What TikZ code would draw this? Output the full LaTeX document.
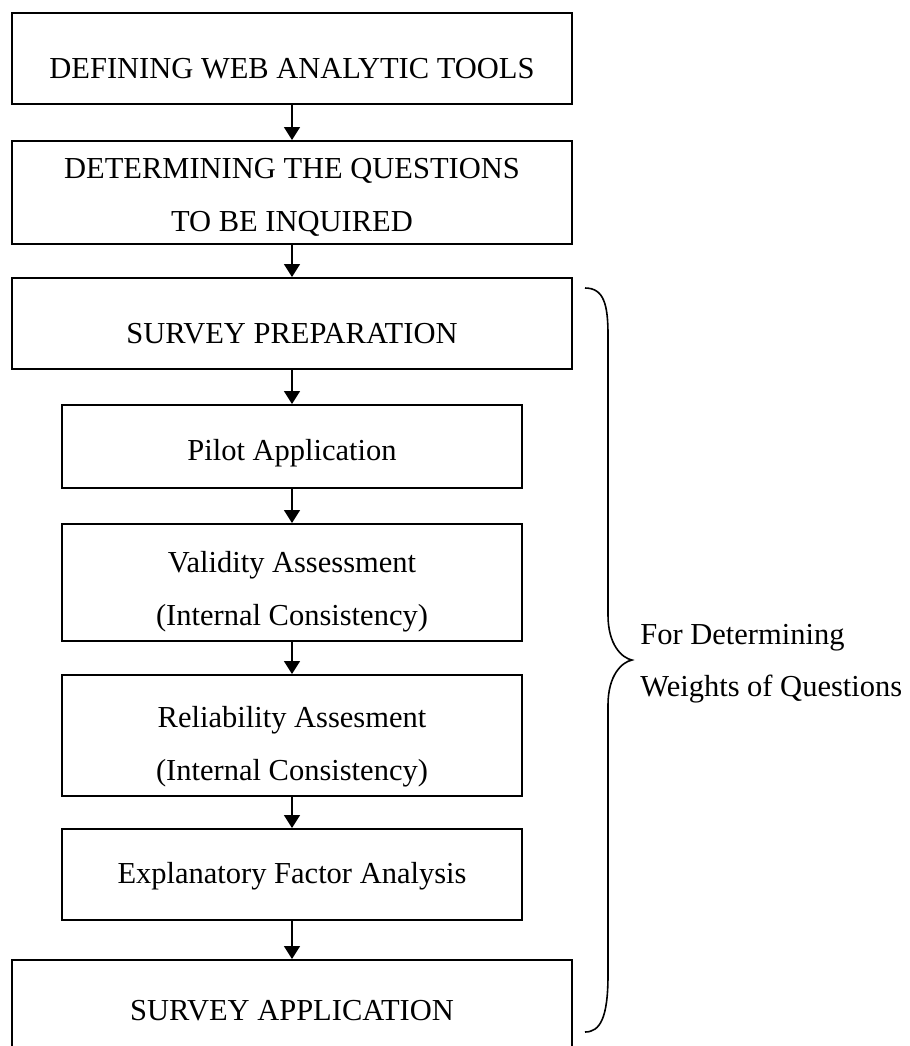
\documentclass[tikz,border=0pt]{standalone}
\usepackage{fontspec}
\setmainfont{Liberation Serif}
\usepackage{tikz}
\usetikzlibrary{arrows.meta,calc,positioning}

\tikzset{
    stepbig/.style={draw, rectangle, line width=0.8pt, minimum width=280pt,
        inner sep=0pt, anchor=north, align=center,
        font=\fontsize{15.25}{26.5}\selectfont},
    stepsmall/.style={stepbig, minimum width=230pt},
    flowarrow/.style={-{Triangle[length=6.5pt,width=8pt]}, line width=0.8pt},
}

\begin{document}
\begin{tikzpicture}[x=0.5pt,y=-0.5pt]
    \useasboundingbox (0,0) rectangle (910,1046);
    % main steps
    \node[stepbig, minimum height=45.5pt, text height=20.5pt, text depth=0pt]
        (tools) at (292,12) {DEFINING WEB ANALYTIC TOOLS};
    \node[stepbig, minimum height=51.5pt, text height=39.5pt, text depth=0pt]
        (questions) at (292,140) {DETERMINING THE QUESTIONS\\TO BE INQUIRED};
    \node[stepbig, minimum height=45.5pt, text height=20.5pt, text depth=0pt]
        (prep) at (292,277) {SURVEY PREPARATION};
    % sub steps
    \node[stepsmall, minimum height=41.5pt, text height=14.5pt, text depth=0pt]
        (pilot) at (292,404) {Pilot Application};
    \node[stepsmall, minimum height=58.5pt, text height=43.5pt, text depth=0pt]
        (validity) at (292,523) {Validity Assessment\\(Internal Consistency)};
    \node[stepsmall, minimum height=60.5pt, text height=45.5pt, text depth=0pt]
        (reliability) at (292,674) {Reliability Assesment\\(Internal Consistency)};
    \node[stepsmall, minimum height=45.5pt, text height=9.5pt, text depth=0pt]
        (efa) at (292,828) {Explanatory Factor Analysis};
    \node[stepbig, minimum height=45.5pt, text height=15.5pt, text depth=0pt]
        (application) at (292,959) {SURVEY APPLICATION};
    % arrows
    \draw[flowarrow] (tools) -- (questions);
    \draw[flowarrow] (questions) -- (prep);
    \draw[flowarrow] (prep) -- (pilot);
    \draw[flowarrow] (pilot) -- (validity);
    \draw[flowarrow] (validity) -- (reliability);
    \draw[flowarrow] (reliability) -- (efa);
    \draw[flowarrow] (efa) -- (application);
    % brace
    \coordinate (bracetop) at (585,288);
    \coordinate (bracetip) at (632,660);
    \coordinate (bracebot) at (585,1032);
    \draw[line width=0.8pt] (bracetop) .. controls (604,288) and (608,305) .. (608,335)
        -- (608,615) .. controls (608,645) and (622,658) .. (bracetip)
        .. controls (622,662) and (608,675) .. (608,705)
        -- (608,975) .. controls (608,1018) and (600,1032) .. (bracebot);
    \node[align=left, anchor=base west, inner sep=0pt,
        font=\fontsize{15.25}{26}\selectfont] (note) at (640,696)
        {For Determining\\Weights of Questions};
\end{tikzpicture}
\end{document}
